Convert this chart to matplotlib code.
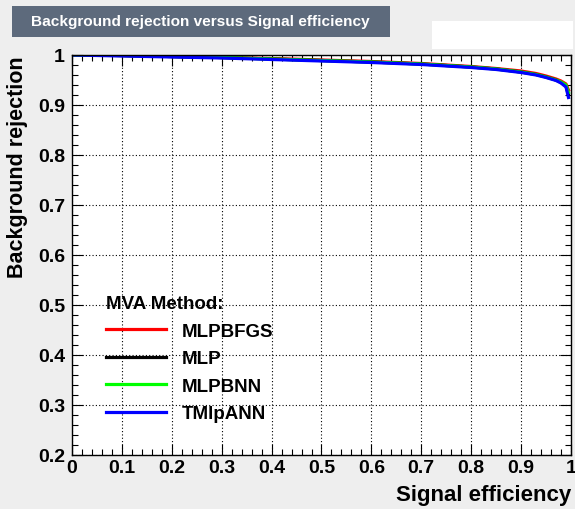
import matplotlib
matplotlib.use("Agg")
import matplotlib.pyplot as plt
import matplotlib.ticker as mticker
from matplotlib.patches import Rectangle

# ROC-style curves
sig_eff = [0.0, 0.1, 0.2, 0.3, 0.4, 0.5, 0.6, 0.7, 0.8, 0.85, 0.9, 0.93, 0.95, 0.97, 0.98, 0.99, 0.995]
rej_bfgs = [1.0, 0.999, 0.997, 0.995, 0.993, 0.990, 0.987, 0.983, 0.977, 0.973, 0.968, 0.963, 0.958, 0.952, 0.948, 0.942, 0.930]
rej_mlp = [1.0, 0.999, 0.997, 0.995, 0.992, 0.989, 0.986, 0.982, 0.976, 0.972, 0.966, 0.961, 0.956, 0.950, 0.945, 0.938, 0.920]
rej_bnn = [1.0, 0.999, 0.997, 0.995, 0.992, 0.989, 0.986, 0.982, 0.976, 0.972, 0.966, 0.961, 0.956, 0.950, 0.946, 0.940, 0.925]
rej_tmlp = [1.0, 0.998, 0.996, 0.994, 0.991, 0.988, 0.985, 0.981, 0.975, 0.971, 0.965, 0.960, 0.955, 0.949, 0.944, 0.936, 0.915]

methods = ["MLPBFGS", "MLP", "MLPBNN", "TMlpANN"]
curves = [rej_bfgs, rej_mlp, rej_bnn, rej_tmlp]
colors = ["#ff0000", "#000000", "#00ff00", "#0000ff"]

x_ticks = [0, 0.1, 0.2, 0.3, 0.4, 0.5, 0.6, 0.7, 0.8, 0.9, 1]
x_labels = ["0", "0.1", "0.2", "0.3", "0.4", "0.5", "0.6", "0.7", "0.8", "0.9", "1"]
y_ticks = [0.2, 0.3, 0.4, 0.5, 0.6, 0.7, 0.8, 0.9, 1]
y_labels = ["0.2", "0.3", "0.4", "0.5", "0.6", "0.7", "0.8", "0.9", "1"]

plt.rcParams['font.family'] = ['Liberation Sans', 'DejaVu Sans']
plt.rcParams['font.weight'] = 'bold'

fig = plt.figure(figsize=(5.75, 5.10), dpi=100)
fig.patch.set_facecolor("#eeeeee")
ax = fig.add_axes([0.1252, 0.1059, 0.8678, 0.7843])
ax.set_facecolor("white")

lines = []
for name, rej, c in zip(methods, curves, colors):
    ln, = ax.plot(sig_eff, rej, color=c, lw=2.3, label=name)
    lines.append(ln)

ax.set_xlim(0, 1)
ax.set_ylim(0.2, 1)
ax.set_xticks(x_ticks)
ax.set_xticklabels(x_labels)
ax.set_yticks(y_ticks)
ax.set_yticklabels(y_labels)
ax.xaxis.set_minor_locator(mticker.MultipleLocator(0.02))
ax.yaxis.set_minor_locator(mticker.MultipleLocator(0.02))
ax.tick_params(which="both", direction="in", top=True, right=True, labelsize=14, width=0.8)
ax.tick_params(which="major", length=8)
ax.tick_params(which="minor", length=4)
ax.tick_params(axis="x", which="major", pad=3)
ax.tick_params(axis="y", which="major", pad=5)
for t in ax.get_xticklabels() + ax.get_yticklabels():
    t.set_fontweight("bold")
ax.grid(which="major", color="black", linestyle=(0, (1, 2)), lw=0.8)
for s in ax.spines.values():
    s.set_linewidth(1.0)

ax.set_xlabel("Signal efficiency", fontsize=16, fontweight="bold", loc="right", labelpad=6)
ax.set_ylabel("Background rejection", fontsize=15.5, fontweight="bold", ha="right")
ax.yaxis.set_label_coords(-0.088, 1.0)

leg = ax.legend(handles=lines, title="MVA Method:", loc="lower left", bbox_to_anchor=(0.035, 0.04),
                frameon=False, fontsize=13.5, title_fontsize=13.5, handlelength=3.2,
                handletextpad=0.8, labelspacing=0.55)
leg.get_title().set_fontweight("bold")
leg._legend_box.align = "left"
for t in leg.get_texts():
    t.set_fontweight("bold")

# title box and blank box at top
fig.patches.append(Rectangle((12 / 575, 1 - 38 / 510), 378 / 575, 31 / 510, transform=fig.transFigure,
                             facecolor="#5d6a7c", edgecolor="none"))
fig.text(200 / 575, 1 - 22 / 510, "Background rejection versus Signal efficiency", color="white",
         fontsize=11.1, fontweight="bold", ha="center", va="center")
fig.patches.append(Rectangle((432 / 575, 1 - 50 / 510), 141 / 575, 28 / 510, transform=fig.transFigure,
                             facecolor="white", edgecolor="none"))

fig.savefig("out.png", dpi=100, facecolor=fig.get_facecolor())
